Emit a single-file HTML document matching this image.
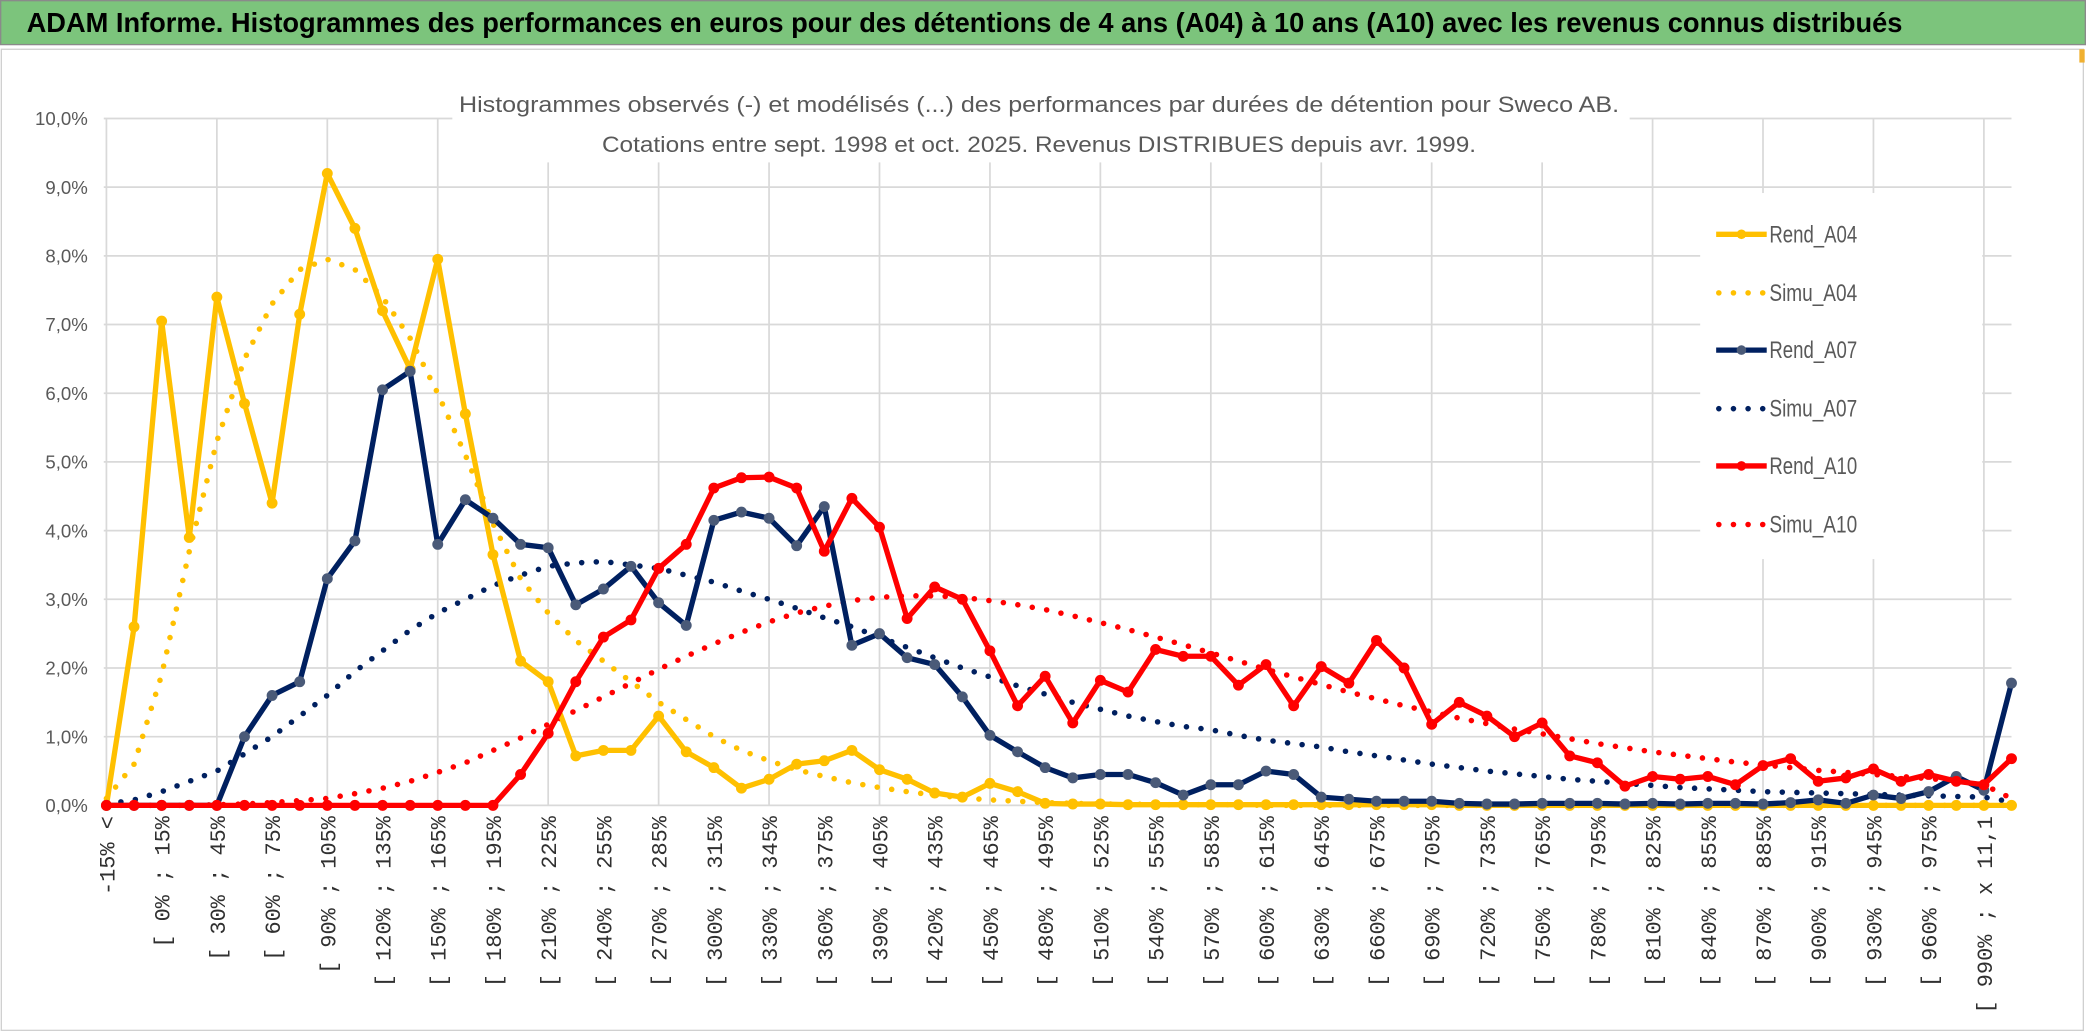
<!DOCTYPE html>
<html><head><meta charset="utf-8"><style>
html,body{margin:0;padding:0;background:#fff;}
svg{display:block;}
text{font-family:"Liberation Sans Narrow","Liberation Sans",sans-serif;}
text.mono{font-family:"Liberation Mono",monospace;}
</style></head><body>
<svg id="chart" width="2086" height="1033" viewBox="0 0 1568 776" preserveAspectRatio="none" xmlns="http://www.w3.org/2000/svg">
<rect x="0" y="0" width="1568" height="776" fill="#fff"/>
<rect x="0.5" y="0.5" width="1567" height="33" fill="#7cc47c" stroke="#8a8a8a"/>
<text x="20" y="24" font-size="21" font-weight="bold" fill="#000" textLength="1410" lengthAdjust="spacingAndGlyphs">ADAM Informe. Histogrammes des performances en euros pour des détentions de 4 ans (A04) à 10 ans (A10) avec les revenus connus distribués</text>
<rect x="1" y="37" width="1565" height="737" fill="none" stroke="#d0d0d0"/>
<rect x="1563" y="37" width="4" height="10" fill="#f0b030"/>
<g id="grid"></g>
<g id="xlabels"></g>
<g id="ylabels"></g>
<g id="series"></g>
<rect x="340" y="60" width="885" height="62" fill="#fff"/>
<text x="781" y="84" font-size="17" fill="#595959" text-anchor="middle" textLength="872" lengthAdjust="spacingAndGlyphs">Histogrammes observés (-) et modélisés (...) des performances par durées de détention pour Sweco AB.</text>
<text x="781" y="114" font-size="17" fill="#595959" text-anchor="middle" textLength="657" lengthAdjust="spacingAndGlyphs">Cotations entre sept. 1998 et oct. 2025. Revenus DISTRIBUES depuis avr. 1999.</text>
<g id="legend"></g>
</svg>
<script>
const categories = [];
categories.push("-15% <");
categories.push("[ -15% ; 0%");
for (let k = 2; k < 69; k++) categories.push("[ " + ((k - 2) * 15) + "% ; " + ((k - 1) * 15) + "%");
categories[68] = "[ 990% ; x 11,1";
categories.push("> x 11,1");
const yTicks = [0,1,2,3,4,5,6,7,8,9,10];
const yTickLabels = ["0,0%","1,0%","2,0%","3,0%","4,0%","5,0%","6,0%","7,0%","8,0%","9,0%","10,0%"];
const seriesNames = ["Rend_A04","Simu_A04","Rend_A07","Simu_A07","Rend_A10","Simu_A10"];
const rendA04 = [0,2.6,7.05,3.9,7.4,5.85,4.4,7.15,9.2,8.4,7.2,6.35,7.95,5.7,3.65,2.1,1.8,0.72,0.8,0.8,1.3,0.78,0.55,0.25,0.38,0.6,0.65,0.8,0.52,0.38,0.18,0.12,0.32,0.2,0.03,0.02,0.02,0.01,0.01,0.01,0.01,0.01,0.01,0.01,0.01,0.01,0.01,0.01,0.01,0,0,0,0,0,0,0,0,0,0,0,0,0,0,0,0,0,0,0,0,0];
const simuA04 = [0.1,0.6,1.9,3.7,5.3,6.5,7.3,7.8,7.95,7.8,7.4,6.8,6.0,5.1,4.1,3.3,2.8,2.4,2.1,1.8,1.5,1.25,1.0,0.8,0.65,0.52,0.42,0.33,0.26,0.2,0.15,0.11,0.08,0.06,0.04,0.03,0.02,0.02,0.01,0.01,0.01,0.01,0,0,0,0,0,0,0,0,0,0,0,0,0,0,0,0,0,0,0,0,0,0,0,0,0,0,0,0];
const rendA07 = [0,0,0,0,0,1.0,1.6,1.8,3.3,3.85,6.05,6.32,3.8,4.45,4.18,3.8,3.75,2.92,3.15,3.48,2.95,2.62,4.15,4.27,4.18,3.78,4.35,2.33,2.5,2.15,2.05,1.58,1.02,0.78,0.55,0.4,0.45,0.45,0.33,0.15,0.3,0.3,0.5,0.45,0.12,0.09,0.06,0.06,0.06,0.03,0.02,0.02,0.03,0.03,0.03,0.02,0.03,0.02,0.03,0.03,0.02,0.04,0.08,0.03,0.15,0.1,0.2,0.42,0.22,1.78];
const simuA07 = [0.02,0.08,0.2,0.35,0.5,0.75,1.0,1.3,1.6,1.95,2.25,2.55,2.8,3.0,3.2,3.35,3.48,3.53,3.55,3.5,3.45,3.35,3.25,3.12,3.0,2.87,2.73,2.6,2.45,2.3,2.15,2.0,1.87,1.74,1.62,1.5,1.4,1.3,1.22,1.15,1.1,1.02,0.95,0.9,0.85,0.78,0.72,0.66,0.6,0.55,0.5,0.46,0.42,0.38,0.35,0.32,0.29,0.26,0.24,0.22,0.2,0.19,0.18,0.17,0.16,0.15,0.14,0.13,0.12,0.05];
const rendA10 = [0,0,0,0,0,0,0,0,0,0,0,0,0,0,0,0.45,1.05,1.8,2.45,2.7,3.45,3.8,4.62,4.77,4.78,4.62,3.7,4.47,4.05,2.72,3.18,3.0,2.25,1.45,1.88,1.2,1.82,1.65,2.27,2.17,2.17,1.75,2.05,1.45,2.02,1.78,2.4,2.0,1.18,1.5,1.3,1.0,1.2,0.72,0.62,0.28,0.42,0.38,0.42,0.3,0.58,0.68,0.35,0.4,0.53,0.35,0.45,0.35,0.3,0.68];
const simuA10 = [0,0,0,0,0.01,0.02,0.04,0.07,0.1,0.17,0.25,0.35,0.48,0.62,0.8,0.98,1.18,1.38,1.58,1.78,1.98,2.17,2.35,2.52,2.67,2.8,2.9,2.98,3.03,3.05,3.05,3.03,2.98,2.92,2.85,2.76,2.66,2.56,2.45,2.34,2.22,2.1,1.98,1.87,1.76,1.65,1.55,1.45,1.36,1.27,1.19,1.11,1.04,0.97,0.9,0.84,0.78,0.73,0.68,0.63,0.59,0.55,0.51,0.48,0.45,0.42,0.39,0.36,0.3,0.1];

const NS = "http://www.w3.org/2000/svg";
const X0 = 80, X1 = 1512, Y0 = 605, Y10 = 89;
function xScale(i){ return X0 + i * (X1 - X0) / (categories.length - 1); }
function yScale(v){ return Y0 - v * (Y0 - Y10) / 10; }
function mk(tag, attrs, parent){ const e = document.createElementNS(NS, tag); for (const k in attrs) e.setAttribute(k, attrs[k]); parent.appendChild(e); return e; }

const grid = document.getElementById('grid');
yTicks.forEach(t => {
  const l = mk('line', {x1: 78, x2: 1512, y1: yScale(t), y2: yScale(t), stroke: '#d9d9d9', 'stroke-width': 1.3}, grid);
  
  
});
for (let i = 0; i < categories.length; i += 4) {
  const l = mk('line', {x1: xScale(i), x2: xScale(i), y1: yScale(10), y2: Y0, stroke: '#d9d9d9', 'stroke-width': 1.3}, grid);
  
  
}
const yl = document.getElementById('ylabels');
yTicks.forEach((t, i) => {
  const e = mk('text', {x: 66, y: yScale(t) + 5, 'font-size': 14, fill: '#595959', 'text-anchor': 'end'}, yl);
  e.textContent = yTickLabels[i];
  
  
});
const xl = document.getElementById('xlabels');
for (let i = 0; i < categories.length; i += 2) {
  const x = xScale(i) + 6, y = 613;
  const e = mk('text', {x: x, y: y, 'font-size': 16.5, fill: '#303030', 'text-anchor': 'end', transform: 'rotate(-90 ' + x + ' ' + y + ')', 'class': 'mono'}, xl);
  e.textContent = categories[i];
  
  
}
const sg = document.getElementById('series');
function pathOf(arr){ return arr.map((v, i) => (i ? 'L' : 'M') + xScale(i).toFixed(1) + ' ' + yScale(v).toFixed(1)).join(' '); }
function dotted(arr, color, name){
  const p = mk('path', {d: pathOf(arr), fill: 'none', stroke: color, 'stroke-width': 4.2, 'stroke-linecap': 'round', 'stroke-dasharray': '0 11'}, sg);
  
  
}
function solid(arr, color, mcolor, name){
  const g = mk('g', {}, sg);
  
  
  mk('path', {d: pathOf(arr), fill: 'none', stroke: color, 'stroke-width': 4, 'stroke-linejoin': 'round'}, g);
  arr.forEach((v, i) => {
    const c = mk('circle', {cx: xScale(i), cy: yScale(v), r: 3.6, fill: mcolor, stroke: mcolor}, g);
    
    
  });
}
dotted(simuA04, '#FFC000', 'simu-a04-line');
dotted(simuA07, '#002060', 'simu-a07-line');
dotted(simuA10, '#FF0000', 'simu-a10-line');
solid(rendA04, '#FFC000', '#FFC000', 'rend-a04-line');
solid(rendA07, '#002060', '#4a5a78', 'rend-a07-line');
solid(rendA10, '#FF0000', '#FF0000', 'rend-a10-line');

const lg = document.getElementById('legend');
mk('rect', {x: 1278, y: 145, width: 212, height: 275, fill: '#fff'}, lg);
const legY = [176, 220, 263, 307, 350, 394];
const legColors = ['#FFC000','#FFC000','#002060','#002060','#FF0000','#FF0000'];
const legMarker = ['#FFC000', null, '#4a5a78', null, '#FF0000', null];
seriesNames.forEach((n, i) => {
  const g = mk('g', {}, lg);
  
  
  const y = legY[i];
  if (legMarker[i]) {
    mk('line', {x1: 1290, x2: 1328, y1: y, y2: y, stroke: legColors[i], 'stroke-width': 4}, g);
    mk('circle', {cx: 1309, cy: y, r: 3.6, fill: legMarker[i]}, g);
  } else {
    mk('line', {x1: 1292, x2: 1328, y1: y, y2: y, stroke: legColors[i], 'stroke-width': 4.2, 'stroke-linecap': 'round', 'stroke-dasharray': '0 11'}, g);
  }
  const t = mk('text', {x: 1330, y: y + 6, 'font-size': 18, fill: '#595959', textLength: 66, lengthAdjust: 'spacingAndGlyphs'}, g);
  t.textContent = n;
});
</script>
</body></html>
